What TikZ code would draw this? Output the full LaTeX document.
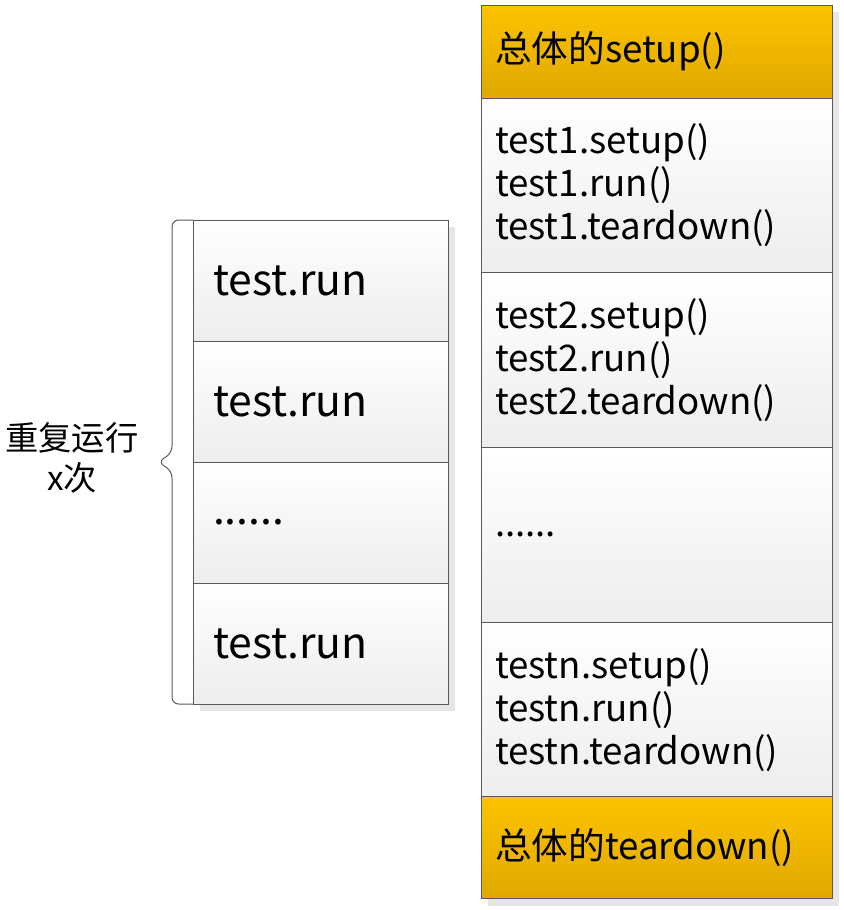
\documentclass[tikz,border=0pt]{standalone}
\usepackage{fontspec}
\setmainfont{Noto Sans CJK SC}
\usetikzlibrary{positioning,shadows,calc}
\definecolor{boxline}{HTML}{595959}
\definecolor{goldtop}{HTML}{FDC300}
\definecolor{goldbot}{HTML}{E0A800}
\definecolor{shadowgray}{HTML}{E6E6E6}

\begin{document}
\begin{tikzpicture}[x=0.75pt, y=-0.75pt,
  boxbase/.style={draw=boxline, line width=0.75pt, shading=axis, align=left, inner ysep=0pt, outer sep=0pt,
    drop shadow={shadow xshift=5.25pt, shadow yshift=-5.25pt, fill=shadowgray, opacity=1}},
  runbox/.style={boxbase, top color=white, bottom color=black!7, minimum width=191.25pt,
    minimum height=90.75pt, text width=161.25pt, inner xsep=15pt, font=\fontsize{32}{38}\selectfont},
  casebox/.style={boxbase, top color=white, bottom color=black!7, minimum width=263.25pt,
    text width=242.25pt, inner xsep=10.5pt, font=\fontsize{27.5}{32.25}\selectfont},
  goldbox/.style={casebox, top color=goldtop, bottom color=goldbot}
]
  \useasboundingbox (0,0) rectangle (843,910);

  % left column: the same test run x times
  \node[runbox, anchor=north west] (run1) at (193,220) {test.run};
  \node[runbox, below=0pt of run1] (run2) {test.run};
  \node[runbox, below=0pt of run2] (run3) {......};
  \node[runbox, below=0pt of run3] (run4) {test.run};

  \coordinate (tip) at (158,462);
  \draw[boxline, line width=0.75pt, rounded corners=5pt]
    (run1.north west) -- ++(-21,0) -- ($(tip)+(14,-9)$) -- (tip)
    -- ($(tip)+(14,9)$) -- ($(run4.south west)+(-21,0)$) -- (run4.south west);
  \node[font=\fontsize{25}{30}\selectfont, align=center] (repeat) at (72,458) {重复运行\\x次};

  % right column: global setup, each test, global teardown
  \node[goldbox, anchor=north west, minimum height=69.75pt] (gsetup) at (481,5) {总体的setup()};
  \node[casebox, below=0pt of gsetup, minimum height=131.06pt] (case1)
    {test1.setup()\\test1.run()\\test1.teardown()};
  \node[casebox, below=0pt of case1, minimum height=131.06pt] (case2)
    {test2.setup()\\test2.run()\\test2.teardown()};
  \node[casebox, below=0pt of case2, minimum height=131.06pt] (casedots) {......};
  \node[casebox, below=0pt of casedots, minimum height=131.06pt] (casen)
    {testn.setup()\\testn.run()\\testn.teardown()};
  \node[goldbox, below=0pt of casen, minimum height=76.5pt] (gteardown) {总体的teardown()};
\end{tikzpicture}
\end{document}
